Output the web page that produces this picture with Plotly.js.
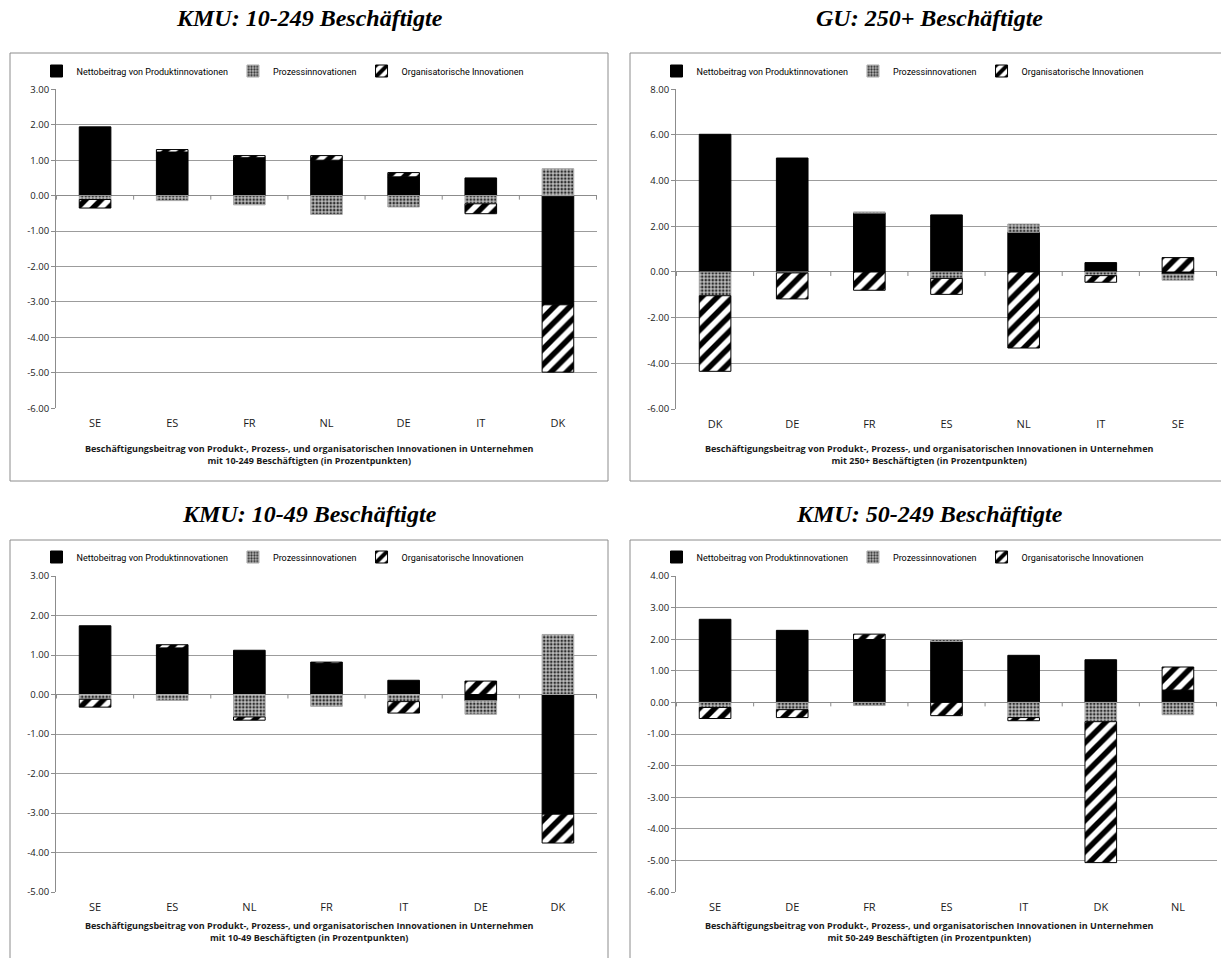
<!DOCTYPE html>
<html><head><meta charset="utf-8">
<script src="https://cdn.plot.ly/plotly-3.0.1.min.js"></script>
<style>html,body{margin:0;padding:0;background:#fff}#chart{width:1221px;height:958px}</style>
</head><body><div id="chart"></div>
<script>
// ---- data ----
const seriesNames = ['Nettobeitrag von Produktinnovationen', 'Prozessinnovationen', 'Organisatorische Innovationen'];
const panelTitles = ['KMU: 10-249 Beschäftigte', 'GU: 250+ Beschäftigte', 'KMU: 10-49 Beschäftigte', 'KMU: 50-249 Beschäftigte'];
const axisTitles = [
  'Beschäftigungsbeitrag von Produkt-, Prozess-, und organisatorischen Innovationen in Unternehmen<br>mit 10-249 Beschäftigten (in Prozentpunkten)',
  'Beschäftigungsbeitrag von Produkt-, Prozess-, und organisatorischen Innovationen in Unternehmen<br>mit 250+ Beschäftigten (in Prozentpunkten)',
  'Beschäftigungsbeitrag von Produkt-, Prozess-, und organisatorischen Innovationen in Unternehmen<br>mit 10-49 Beschäftigten (in Prozentpunkten)',
  'Beschäftigungsbeitrag von Produkt-, Prozess-, und organisatorischen Innovationen in Unternehmen<br>mit 50-249 Beschäftigten (in Prozentpunkten)'
];

const cats1 = ['SE', 'ES', 'FR', 'NL', 'DE', 'IT', 'DK'];
const prod1 = [1.94, 1.23, 1.07, 1.00, 0.53, 0.50, -3.08];
const proc1 = [-0.11, -0.14, -0.26, -0.53, -0.32, -0.23, 0.76];
const org1  = [-0.24, 0.07, 0.06, 0.13, 0.12, -0.28, -1.90];
const ticks1 = [3, 2, 1, 0, -1, -2, -3, -4, -5, -6];

const cats2 = ['DK', 'DE', 'FR', 'ES', 'NL', 'IT', 'SE'];
const prod2 = [6.03, 4.99, 2.58, 2.50, 1.74, 0.41, -0.10];
const proc2 = [-1.04, -0.04, 0.05, -0.28, 0.36, -0.16, -0.26];
const org2  = [-3.31, -1.14, -0.80, -0.70, -3.33, -0.29, 0.63];
const ticks2 = [8, 6, 4, 2, 0, -2, -4, -6];

const cats3 = ['SE', 'ES', 'NL', 'FR', 'IT', 'DE', 'DK'];
const prod3 = [1.74, 1.18, 1.12, 0.79, 0.36, -0.16, -3.03];
const proc3 = [-0.12, -0.15, -0.57, -0.30, -0.18, -0.34, 1.52];
const org3  = [-0.20, 0.08, -0.08, 0.03, -0.29, 0.34, -0.73];
const ticks3 = [3, 2, 1, 0, -1, -2, -3, -4, -5];

const cats4 = ['SE', 'DE', 'FR', 'ES', 'IT', 'DK', 'NL'];
const prod4 = [2.63, 2.28, 1.99, 1.93, 1.49, 1.35, 0.39];
const proc4 = [-0.16, -0.23, -0.10, 0.06, -0.48, -0.61, -0.39];
const org4  = [-0.35, -0.25, 0.17, -0.42, -0.10, -4.46, 0.73];
const ticks4 = [4, 3, 2, 1, 0, -1, -2, -3, -4, -5, -6];

// ---- layout helpers ----
const W = 1221, H = 958;
const X = px => px / W;
const Y = py => 1 - py / H;
const SANS = '"Open Sans", sans-serif';
const LEGF = 'Roboto, "Open Sans", sans-serif';
const SERIF = '"Liberation Serif", "Times New Roman", serif';
const TXT = '#1a1a1a';

const panels = [
  {cats: cats1, d: [prod1, proc1, org1], ticks: ticks1, box: [10, 608, 53, 481], plot: [56, 597, 89.3, 408.3], titleY: 18, legY: 71, axY: 454},
  {cats: cats2, d: [prod2, proc2, org2], ticks: ticks2, box: [630, 1228, 53, 481], plot: [676, 1217, 89.3, 409], titleY: 18, legY: 71, axY: 454},
  {cats: cats3, d: [prod3, proc3, org3], ticks: ticks3, box: [10, 608, 540, 975], plot: [56, 597, 576, 892], titleY: 514, legY: 557, axY: 931},
  {cats: cats4, d: [prod4, proc4, org4], ticks: ticks4, box: [630, 1228, 540, 975], plot: [676, 1217, 576, 892], titleY: 514, legY: 557, axY: 931}
];

const markers = [
  {color: '#000000', line: {color: '#000000', width: 1}},
  {color: '#9a9a9a', line: {color: '#a8a8a8', width: 1},
   pattern: {shape: '.', fgcolor: '#2e2e2e', bgcolor: '#bdbdbd', size: 3.5, solidity: 0.45}},
  {color: '#ffffff', line: {color: '#000000', width: 1},
   pattern: {shape: '/', fgcolor: '#000000', bgcolor: '#ffffff', size: 11, solidity: 0.5}}
];

const traces = [];
const layout = {
  width: W, height: H, autosize: false,
  margin: {l: 0, r: 0, t: 0, b: 0},
  paper_bgcolor: '#ffffff', plot_bgcolor: '#ffffff',
  barmode: 'relative', bargap: 0.59,
  font: {family: SANS, color: TXT},
  shapes: [], annotations: []
};

panels.forEach((p, k) => {
  const s = k === 0 ? '' : String(k + 1);
  p.d.forEach((vals, j) => {
    traces.push({
      type: 'bar', x: p.cats, y: vals, name: seriesNames[j],
      marker: markers[j], xaxis: 'x' + s, yaxis: 'y' + s,
      legend: 'legend' + s, hoverinfo: 'x+y+name'
    });
  });
  const [x0, x1, y0, y1] = p.plot;
  layout['xaxis' + s] = {
    domain: [X(x0), X(x1)], anchor: 'y' + s, type: 'category',
    categoryorder: 'array', categoryarray: p.cats,
    showline: false, showgrid: false, zeroline: false, ticks: '',
    ticklabelstandoff: 7,
    tickfont: {size: 11, color: TXT, family: SANS}, fixedrange: true
  };
  const tmax = Math.max(...p.ticks), tmin = Math.min(...p.ticks);
  layout['yaxis' + s] = {
    domain: [Y(y1), Y(y0)], anchor: 'x' + s, range: [tmin, tmax],
    tickvals: p.ticks, ticktext: p.ticks.map(v => v.toFixed(2)),
    showgrid: true, gridcolor: '#9c9c9c', gridwidth: 1,
    showline: true, linecolor: '#8c8c8c', linewidth: 1,
    ticks: 'outside', ticklen: 4, tickcolor: '#8c8c8c',
    zeroline: true, zerolinecolor: '#8c8c8c', zerolinewidth: 1,
    tickfont: {size: 9.5, color: TXT, family: SANS}, fixedrange: true
  };
  const bx = p.box;
  const cx = k % 2 === 0 ? 309 : 929;
  layout['legend' + s] = {
    orientation: 'h', x: X(cx - 26), xanchor: 'center', y: Y(p.legY), yanchor: 'middle',
    font: {size: 9, color: '#000', family: LEGF}, bgcolor: 'rgba(0,0,0,0)',
    itemwidth: 30, traceorder: 'normal', itemclick: false, itemdoubleclick: false
  };
  layout.shapes.push({type: 'rect', xref: 'paper', yref: 'paper',
    x0: X(bx[0]), x1: X(bx[1]), y0: Y(bx[3]), y1: Y(bx[2]),
    line: {color: '#8c8c8c', width: 1}, fillcolor: 'rgba(0,0,0,0)', layer: 'below'});
  for (let i = 0; i <= p.cats.length; i++) {
    layout.shapes.push({type: 'line', xref: 'x' + s, yref: 'y' + s,
      x0: i - 0.5, x1: i - 0.5, ysizemode: 'pixel', yanchor: 0, y0: 0, y1: -4,
      line: {color: '#8c8c8c', width: 1}});
  }
  layout.annotations.push({xref: 'paper', yref: 'paper', x: X(cx), y: Y(p.titleY),
    xanchor: 'center', yanchor: 'middle', showarrow: false, text: '<b><i>' + panelTitles[k] + '</i></b>',
    font: {family: SERIF, size: 24, color: '#000'}});
  layout.annotations.push({xref: 'paper', yref: 'paper', x: X(cx), y: Y(p.axY),
    xanchor: 'center', yanchor: 'middle', showarrow: false, text: '<b>' + axisTitles[k] + '</b>',
    font: {family: SANS, size: 9, color: TXT}});
});

Plotly.newPlot('chart', traces, layout, {displayModeBar: false, staticPlot: true});
</script></body></html>
